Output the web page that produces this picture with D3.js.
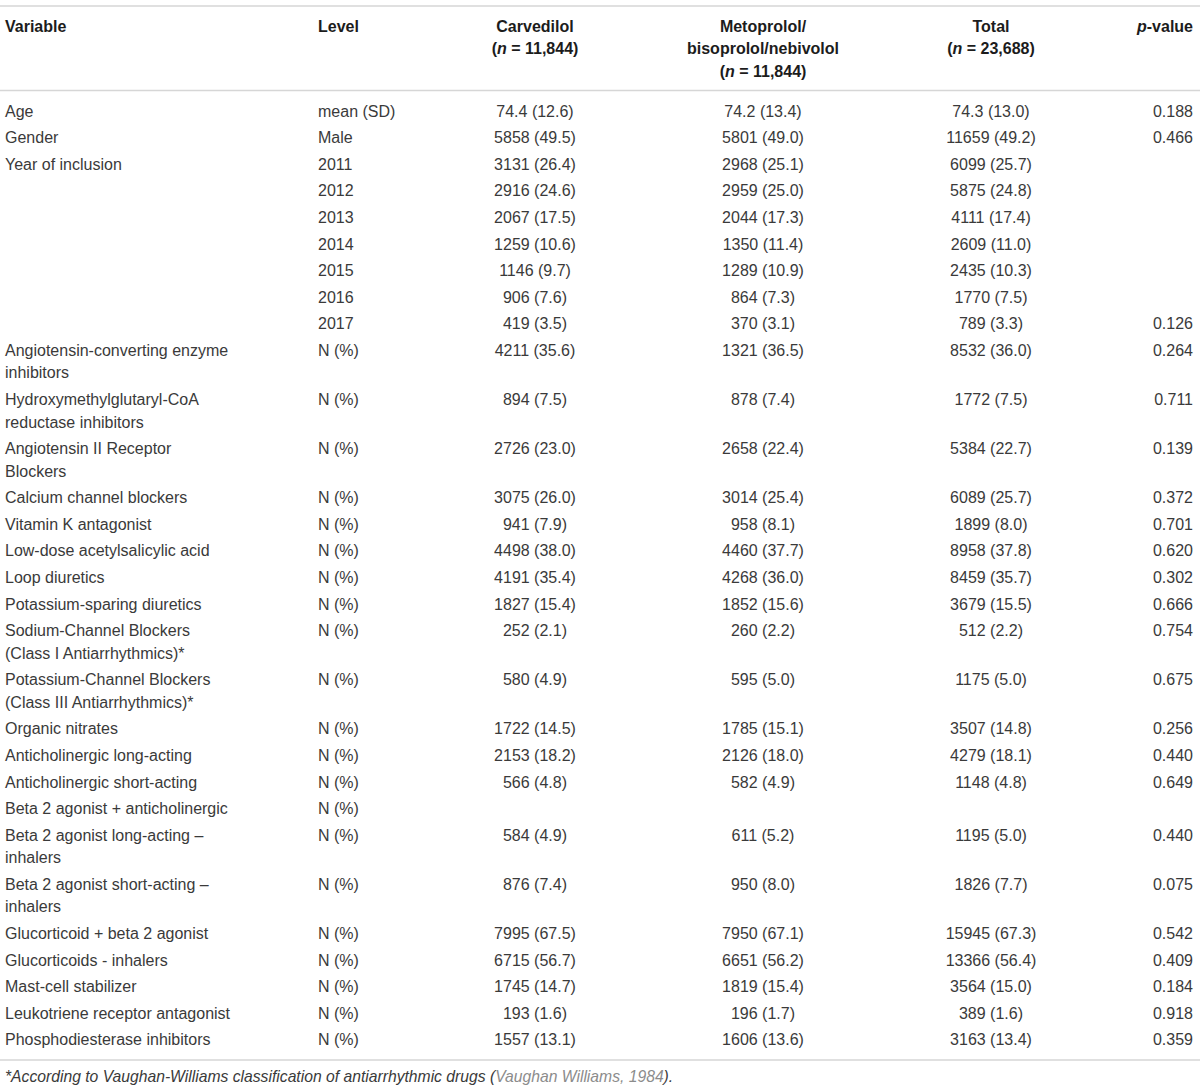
<!DOCTYPE html>
<html>
<head>
<meta charset="utf-8">
<script src="https://cdn.jsdelivr.net/npm/d3@7"></script>
<style>
  body { margin: 0; background: #fff; }
  svg { display: block; font-family: "Liberation Sans", Arial, sans-serif; }
</style>
</head>
<body>
<div id="table"></div>
<script>
// Table content
const variables = [
  ["Age"], ["Gender"], ["Year of inclusion"], [], [], [], [], [], [],
  ["Angiotensin-converting enzyme", "inhibitors"],
  ["Hydroxymethylglutaryl-CoA", "reductase inhibitors"],
  ["Angiotensin II Receptor", "Blockers"],
  ["Calcium channel blockers"],
  ["Vitamin K antagonist"],
  ["Low-dose acetylsalicylic acid"],
  ["Loop diuretics"],
  ["Potassium-sparing diuretics"],
  ["Sodium-Channel Blockers", "(Class I Antiarrhythmics)*"],
  ["Potassium-Channel Blockers", "(Class III Antiarrhythmics)*"],
  ["Organic nitrates"],
  ["Anticholinergic long-acting"],
  ["Anticholinergic short-acting"],
  ["Beta 2 agonist + anticholinergic"],
  ["Beta 2 agonist long-acting \u2013", "inhalers"],
  ["Beta 2 agonist short-acting \u2013", "inhalers"],
  ["Glucorticoid + beta 2 agonist"],
  ["Glucorticoids - inhalers"],
  ["Mast-cell stabilizer"],
  ["Leukotriene receptor antagonist"],
  ["Phosphodiesterase inhibitors"]
];

const levels = ["mean (SD)", "Male", "2011", "2012", "2013", "2014", "2015", "2016", "2017",
  "N (%)", "N (%)", "N (%)", "N (%)", "N (%)", "N (%)", "N (%)", "N (%)", "N (%)", "N (%)",
  "N (%)", "N (%)", "N (%)", "N (%)", "N (%)", "N (%)", "N (%)", "N (%)", "N (%)", "N (%)", "N (%)"];

const carvedilol = ["74.4 (12.6)", "5858 (49.5)", "3131 (26.4)", "2916 (24.6)", "2067 (17.5)",
  "1259 (10.6)", "1146 (9.7)", "906 (7.6)", "419 (3.5)", "4211 (35.6)", "894 (7.5)",
  "2726 (23.0)", "3075 (26.0)", "941 (7.9)", "4498 (38.0)", "4191 (35.4)", "1827 (15.4)",
  "252 (2.1)", "580 (4.9)", "1722 (14.5)", "2153 (18.2)", "566 (4.8)", "", "584 (4.9)",
  "876 (7.4)", "7995 (67.5)", "6715 (56.7)", "1745 (14.7)", "193 (1.6)", "1557 (13.1)"];

const metoprolol = ["74.2 (13.4)", "5801 (49.0)", "2968 (25.1)", "2959 (25.0)", "2044 (17.3)",
  "1350 (11.4)", "1289 (10.9)", "864 (7.3)", "370 (3.1)", "1321 (36.5)", "878 (7.4)",
  "2658 (22.4)", "3014 (25.4)", "958 (8.1)", "4460 (37.7)", "4268 (36.0)", "1852 (15.6)",
  "260 (2.2)", "595 (5.0)", "1785 (15.1)", "2126 (18.0)", "582 (4.9)", "", "611 (5.2)",
  "950 (8.0)", "7950 (67.1)", "6651 (56.2)", "1819 (15.4)", "196 (1.7)", "1606 (13.6)"];

const total = ["74.3 (13.0)", "11659 (49.2)", "6099 (25.7)", "5875 (24.8)", "4111 (17.4)",
  "2609 (11.0)", "2435 (10.3)", "1770 (7.5)", "789 (3.3)", "8532 (36.0)", "1772 (7.5)",
  "5384 (22.7)", "6089 (25.7)", "1899 (8.0)", "8958 (37.8)", "8459 (35.7)", "3679 (15.5)",
  "512 (2.2)", "1175 (5.0)", "3507 (14.8)", "4279 (18.1)", "1148 (4.8)", "", "1195 (5.0)",
  "1826 (7.7)", "15945 (67.3)", "13366 (56.4)", "3564 (15.0)", "389 (1.6)", "3163 (13.4)"];

const pValues = ["0.188", "0.466", "", "", "", "", "", "", "0.126", "0.264", "0.711", "0.139",
  "0.372", "0.701", "0.620", "0.302", "0.666", "0.754", "0.675", "0.256", "0.440", "0.649",
  "", "0.440", "0.075", "0.542", "0.409", "0.184", "0.918", "0.359"];

// header: each line is a list of [text, italic?] pieces
const headers = [
  [[["Variable", false]]],
  [[["Level", false]]],
  [[["Carvedilol", false]], [["(", false], ["n", true], [" = 11,844)", false]]],
  [[["Metoprolol/", false]], [["bisoprolol/nebivolol", false]], [["(", false], ["n", true], [" = 11,844)", false]]],
  [[["Total", false]], [["(", false], ["n", true], [" = 23,688)", false]]],
  [[["p", true], ["-value", false]]]
];

const footnote = "*According to Vaughan-Williams classification of antiarrhythmic drugs (";
const citation = "Vaughan Williams, 1984";

// Layout
const W = 1200, H = 1091;
const lineH = 22.5, rowPad = 4.1;
const textColor = "#3a3a3a", headColor = "#1c1c1c", ruleColor = "#d6d6d6";

// column anchors
const cols = [
  { x: 5, anchor: "start", values: variables },
  { x: 318, anchor: "start", values: levels },
  { x: 535, anchor: "middle", values: carvedilol },
  { x: 763, anchor: "middle", values: metoprolol },
  { x: 991, anchor: "middle", values: total },
  { x: 1193, anchor: "end", values: pValues }
];

const svg = d3.select("#table").append("svg")
  .attr("width", W)
  .attr("height", H);

// rules
const rules = [6, 90.5, 1060];
svg.selectAll(".rule")
  .data(rules)
  .enter()
  .append("line")
  .attr("class", "rule")
  .attr("x1", 0).attr("x2", W)
  .attr("y1", d => d).attr("y2", d => d)
  .style("stroke", ruleColor)
  .style("stroke-width", 1.5);

// header
const headG = svg.append("g")
  .style("font-weight", "bold")
  .style("font-size", "16px")
  .style("fill", headColor);

headers.forEach((lines, ci) => {
  lines.forEach((pieces, li) => {
    const t = headG.append("text")
      .attr("x", cols[ci].x)
      .attr("y", 31.5 + li * lineH)
      .attr("text-anchor", cols[ci].anchor);
    pieces.forEach(p => {
      t.append("tspan")
        .text(p[0])
        .style("font-style", p[1] ? "italic" : "normal");
    });
  });
});

// row positions from line counts
const lineCounts = variables.map(v => Math.max(1, v.length));
const rowHeights = lineCounts.map(n => rowPad + n * lineH);
const rowStarts = [0, ...d3.cumsum(rowHeights)];
const y = d3.scaleLinear()
  .domain([0, 1])
  .range([116.5, 117.5]);

const bodyG = svg.append("g")
  .style("font-size", "16px")
  .style("fill", textColor);

cols.forEach((col, ci) => {
  col.values.forEach((val, ri) => {
    const lines = Array.isArray(val) ? val : [val];
    lines.forEach((line, li) => {
      if (!line) return;
      bodyG.append("text")
        .attr("x", col.x)
        .attr("y", y(rowStarts[ri]) + li * lineH)
        .attr("text-anchor", col.anchor)
        .text(line);
    });
  });
});

// footnote
const fn = svg.append("text")
  .attr("x", 5)
  .attr("y", 1082)
  .style("font-size", "15.7px")
  .style("font-style", "italic")
  .style("fill", textColor);
fn.append("tspan").text(footnote);
fn.append("tspan").text(citation).style("fill", "#8c8c8c");
fn.append("tspan").text(").");
</script>
</body>
</html>
